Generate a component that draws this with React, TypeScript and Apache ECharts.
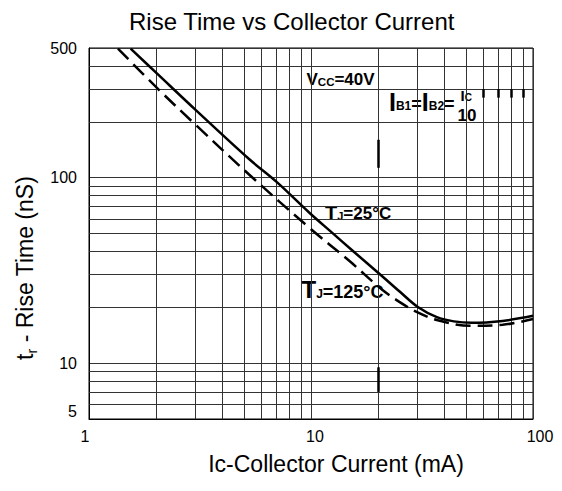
import React, { useEffect, useRef } from "react";
import * as echarts from "echarts";

const FONT = '"Liberation Sans", Arial, Helvetica, sans-serif';

const titleText = "Rise Time vs Collector Current";
const xAxisTitle = "Ic-Collector Current (mA)";

// axis ranges (log decades)
const currentRange = [1, 100];
const riseRange = [5, 500];

// intermediate grid lines inside each decade
const currentGridLines = [2, 3, 4, 5, 6, 7, 8, 9, 20, 30, 40, 50, 60, 70, 80, 90];
const riseGridLines = [6, 7, 8, 9, 20, 30, 40, 50, 60, 70, 80, 90, 200, 300, 400];

// TJ = 25°C curve (solid)
const tj25Current = [1.54, 2.05, 3.02, 5.26, 7.06, 9.83, 12.4, 15.5, 20.8, 25, 30.4, 36.9, 44, 53, 73, 100];
const tj25Rise = [496, 359, 232, 126, 94, 64.7, 50.7, 40.1, 29.6, 24.4, 20.0, 17.7, 16.8, 16.5, 16.9, 18.0];

// TJ = 125°C curve (dashed)
const tj125Current = [1.35, 2.05, 2.99, 5.26, 9.83, 15, 20.8, 25, 30.4, 36.9, 52, 73, 100];
const tj125Rise = [496, 300, 195, 104, 53.7, 35.3, 25.0, 21.4, 18.7, 17.1, 15.9, 16.1, 17.3];

// short heavy vertical strokes printed on the grid
const heavyStrokeCurrent = [20, 20, 60, 70, 80, 90];
const heavyStrokeFrom = [113, 7, 270, 270, 270, 270];
const heavyStrokeTo = [160, 9.5, 300, 300, 300, 300];

// label nudges (padding) for some tick labels
const currentLabelPad: Record<string, number[]> = { "1": [0, 8, 0, 0], "10": [0, 0, 0, 8], "100": [0, 0, 0, 14] };
const riseLabelPad: Record<string, number[]> = { "5": [0, 0, 16, 0] };

type Part = [string, number];

// Builds baseline-aligned rich text from [text, fontSize] pieces
function richText(parts: Part[], weight: string = "bold") {
  const rich: Record<string, any> = {};
  const text = parts
    .map(([s, size], i) => {
      const h = size * 0.693 + 8;
      rich["p" + i] = {
        fontSize: size,
        fontWeight: weight,
        fontFamily: FONT,
        lineHeight: h,
        height: h,
        verticalAlign: "bottom",
        fill: "#000",
        color: "#000",
      };
      return `{p${i}|${s}}`;
    })
    .join("");
  return { text, rich };
}

function annotation(x: number, baseline: number, parts: Part[]) {
  const r = richText(parts);
  return {
    type: "text",
    x,
    y: baseline + 4,
    silent: true,
    style: {
      text: r.text,
      rich: r.rich,
      align: "left",
      verticalAlign: "bottom",
      fill: "#000",
    },
  };
}

function tickRich(pads: Record<string, number[]>) {
  const rich: Record<string, any> = {};
  Object.keys(pads).forEach((k) => {
    rich["t" + k] = { fontSize: 16, fontFamily: FONT, color: "#000", padding: pads[k] };
  });
  return rich;
}

function zip(a: number[], b: number[]) {
  return a.map((v, i) => [v, b[i]]);
}

export default function App() {
  const ref = useRef<HTMLDivElement>(null);

  useEffect(() => {
    document.body.style.margin = "0";
    if (!ref.current) return;
    const chart = echarts.init(ref.current, null, { renderer: "svg" });

    const yName = richText(
      [
        ["t", 23],
        ["r", 14],
        [" - Rise Time (nS)", 23],
      ],
      "normal"
    );
    // lower the subscript a little more
    yName.rich.p1.height = 10;

    const gridLineStyle = { color: "#333", width: 1, type: "solid" as const };

    const fmt = (pads: Record<string, number[]>) => (v: number) => {
      const key = String(Math.round(v));
      return pads[key] ? `{t${key}|${key}}` : key;
    };

    const option: any = {
      animation: false,
      backgroundColor: "#fff",
      title: {
        text: titleText,
        left: 129,
        top: 9,
        padding: 0,
        textStyle: { fontSize: 24, fontWeight: "normal", color: "#000", fontFamily: FONT },
      },
      grid: {
        left: 89,
        top: 48,
        right: 29,
        bottom: 72,
        show: true,
        borderColor: "#000",
        borderWidth: 1,
        backgroundColor: "transparent",
      },
      xAxis: {
        type: "log",
        logBase: 10,
        min: currentRange[0],
        max: currentRange[1],
        axisLine: { show: true, lineStyle: { color: "#000", width: 1 } },
        axisTick: { show: false },
        axisLabel: {
          fontSize: 16,
          color: "#000",
          fontFamily: FONT,
          margin: 9,
          formatter: fmt(currentLabelPad),
          rich: tickRich(currentLabelPad),
        },
        splitLine: { show: true, lineStyle: gridLineStyle },
        name: xAxisTitle,
        nameLocation: "middle",
        nameGap: 33,
        nameTextStyle: { fontSize: 23, color: "#000", fontFamily: FONT, padding: [0, 0, 0, 50] },
      },
      yAxis: {
        type: "log",
        logBase: 10,
        min: riseRange[0],
        max: riseRange[1],
        axisLine: { show: true, lineStyle: { color: "#000", width: 1 } },
        axisTick: { show: false },
        axisLabel: {
          fontSize: 16,
          color: "#000",
          fontFamily: FONT,
          margin: 12,
          formatter: fmt(riseLabelPad),
          rich: tickRich(riseLabelPad),
        },
        splitLine: { show: true, lineStyle: gridLineStyle },
        name: yName.text,
        nameLocation: "middle",
        nameRotate: 90,
        nameGap: 42,
        nameTextStyle: {
          fontSize: 23,
          color: "#000",
          fontFamily: FONT,
          padding: [0, 69, 0, 0],
          rich: yName.rich,
        },
      },
      series: [
        {
          type: "line",
          data: [],
          silent: true,
          markLine: {
            silent: true,
            z: 1,
            symbol: ["none", "none"],
            label: { show: false },
            emphasis: { disabled: true },
            lineStyle: gridLineStyle,
            data: [
              ...currentGridLines.map((v) => ({ xAxis: v })),
              ...riseGridLines.map((v) => ({ yAxis: v })),
            ],
          },
        },
        {
          type: "line",
          data: [],
          silent: true,
          markLine: {
            silent: true,
            z: 2,
            symbol: ["none", "none"],
            label: { show: false },
            emphasis: { disabled: true },
            lineStyle: { color: "#000", width: 2.5, type: "solid" },
            data: heavyStrokeCurrent.map((c, i) => [
              { coord: [c, heavyStrokeFrom[i]] },
              { coord: [c, heavyStrokeTo[i]] },
            ]),
          },
        },
        {
          name: "TJ=25°C",
          type: "line",
          z: 3,
          data: zip(tj25Current, tj25Rise),
          symbol: "none",
          smooth: 0.35,
          silent: true,
          lineStyle: { color: "#000", width: 2.5, type: "solid" },
        },
        {
          name: "TJ=125°C",
          type: "line",
          z: 3,
          data: zip(tj125Current, tj125Rise),
          symbol: "none",
          smooth: 0.35,
          silent: true,
          lineStyle: { color: "#000", width: 2.5, type: [15, 7] },
        },
      ],
      graphic: [
        annotation(306.5, 85.5, [
          ["V", 17],
          ["CC", 11.5],
          ["=40V", 17],
        ]),
        annotation(389, 110.5, [
          ["I", 25],
          ["B1", 12],
          ["=", 18],
          ["I", 25],
          ["B2", 12],
          ["=", 18],
        ]),
        annotation(460.5, 101, [
          ["I", 15],
          ["C", 10],
        ]),
        annotation(457.5, 121, [["10", 17]]),
        annotation(325, 219.5, [
          ["T", 20],
          ["J", 11],
          ["=25°C", 17],
        ]),
        annotation(301.5, 298.3, [
          ["T", 24],
          ["J", 12],
          ["=125°C", 18],
        ]),
      ],
    };

    chart.setOption(option);
    return () => {
      chart.dispose();
    };
  }, []);

  return <div ref={ref} style={{ width: 562, height: 491 }} />;
}
